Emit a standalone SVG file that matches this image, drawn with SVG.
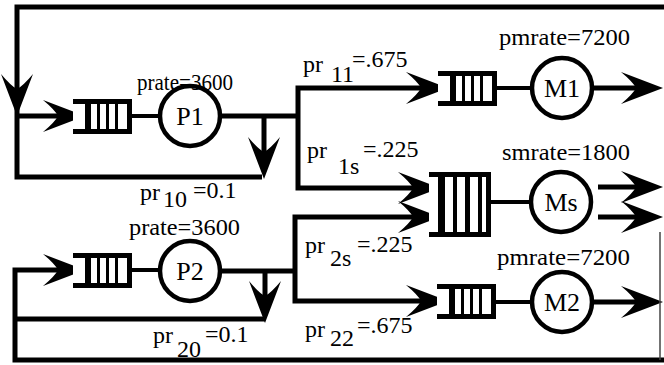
<svg xmlns="http://www.w3.org/2000/svg" xmlns:xlink="http://www.w3.org/1999/xlink" width="664" height="365" viewBox="0 0 664 365">
<style>
.ln{fill:none;stroke:#000;stroke-width:5;stroke-linejoin:miter;stroke-linecap:butt}
.lk{fill:none;stroke:#000;stroke-width:4}
.nd{fill:#fff;stroke:#000;stroke-width:4.5}
.t{font-size:24px;fill:#000}
.nl{font-size:26px;fill:#000;text-anchor:middle}
.bk{fill:#000}
.wh{fill:#fff}
</style>
<defs>
<path id="ah" d="M0,0 L-42,-16 Q-30,-6 -27,0 Q-30,6 -42,16 Z" fill="#000"/>
<g id="q">
<rect class="bk" x="0" y="0" width="59" height="35"/>
<rect class="wh" x="0" y="5" width="12" height="25"/>
<rect class="wh" x="18" y="5" width="6" height="25"/>
<rect class="wh" x="27" y="5" width="6" height="25"/>
<rect class="wh" x="36" y="5" width="6" height="25"/>
<rect class="wh" x="45" y="5" width="9" height="25"/>
</g>
</defs>
<g id="connectors">
<path class="ln" d="M664,7 H17 V177 H262"/>
<path class="ln" d="M17,116 H70"/>
<use xlink:href="#ah" transform="translate(17,116) rotate(90)"/>
<use xlink:href="#ah" transform="translate(85,116)"/>
<path class="lk" d="M132,116 H160"/>
<path class="ln" d="M220,116 H298"/>
<path class="ln" d="M264,116 V160"/>
<use xlink:href="#ah" transform="translate(264,179) rotate(90)"/>
<path class="ln" d="M430,88 H298 V188 H425"/>
<use xlink:href="#ah" transform="translate(448,88)"/>
<use xlink:href="#ah" transform="translate(440,188)"/>
<path class="ln" d="M664,360 H15 V270 H70"/>
<use xlink:href="#ah" transform="translate(85,270)"/>
<path class="ln" d="M15,319 H265"/>
<path class="lk" d="M132,270 H160"/>
<path class="ln" d="M220,271 H295"/>
<path class="ln" d="M265,271 V305"/>
<use xlink:href="#ah" transform="translate(265,323) rotate(90)"/>
<path class="ln" d="M425,217 H295 V301 H430"/>
<use xlink:href="#ah" transform="translate(440,217)"/>
<use xlink:href="#ah" transform="translate(448,301)"/>
<path class="lk" d="M497,88 H532"/>
<path class="ln" d="M592,88 H645"/>
<use xlink:href="#ah" transform="translate(663,88)"/>
<path class="lk" d="M491,202 H531"/>
<path class="ln" d="M598,187 H645"/>
<use xlink:href="#ah" transform="translate(663,187)"/>
<path class="ln" d="M598,217 H645"/>
<use xlink:href="#ah" transform="translate(663,217)"/>
<path class="lk" d="M495,302 H532"/>
<path class="ln" d="M592,302 H645"/>
<use xlink:href="#ah" transform="translate(663,302)"/>
<path d="M660,232 V360" stroke="#444" stroke-width="1.5" fill="none"/>
</g>
<g font-family="Liberation Serif, Times New Roman, Times, Tinos, Noto Serif, DejaVu Serif, FreeSerif, serif">
<g id="qP1"><use xlink:href="#q" x="73" y="99"/></g>
<g id="P1"><circle class="nd" cx="190" cy="116" r="30"/><text class="nl" x="190" y="125">P1</text></g>
<g id="qP2"><use xlink:href="#q" x="73" y="253"/></g>
<g id="P2"><circle class="nd" cx="190" cy="271" r="30"/><text class="nl" x="190" y="280">P2</text></g>
<g id="qM1"><use xlink:href="#q" x="438" y="71"/></g>
<g id="M1"><circle class="nd" cx="562" cy="88" r="30"/><text class="nl" x="562" y="97">M1</text></g>
<g id="qMs">
<rect class="bk" x="429" y="172" width="62" height="65"/>
<rect class="wh" x="429" y="177" width="9" height="55"/>
<rect class="wh" x="445" y="177" width="8" height="55"/>
<rect class="wh" x="457" y="177" width="8" height="55"/>
<rect class="wh" x="470" y="177" width="8" height="55"/>
<rect class="wh" x="482" y="177" width="4" height="55"/>
</g>
<g id="Ms"><circle class="nd" cx="561" cy="202" r="30"/><text class="nl" x="561" y="211">Ms</text></g>
<g id="qM2"><use xlink:href="#q" x="437" y="284"/></g>
<g id="M2"><circle class="nd" cx="562" cy="302" r="30"/><text class="nl" x="562" y="311">M2</text></g>
<g id="labels">
<text class="t" x="137" y="90" textLength="96" lengthAdjust="spacingAndGlyphs">prate=3600</text>
<text class="t" x="129" y="235" textLength="111" lengthAdjust="spacingAndGlyphs">prate=3600</text>
<text class="t" x="140" y="200">pr<tspan x="163" y="207">10</tspan><tspan x="193" y="198">=0.1</tspan></text>
<text class="t" x="153" y="343">pr<tspan x="177" y="357">20</tspan><tspan x="205" y="342">=0.1</tspan></text>
<text class="t" x="303" y="72">pr<tspan x="331" y="82">11</tspan><tspan x="352" y="67">=.675</tspan></text>
<text class="t" x="307" y="158">pr<tspan x="338" y="174">1s</tspan><tspan x="363" y="157">=.225</tspan></text>
<text class="t" x="305" y="253">pr<tspan x="330" y="266">2s</tspan><tspan x="357" y="252">=.225</tspan></text>
<text class="t" x="305" y="337">pr<tspan x="330" y="346">22</tspan><tspan x="357" y="333">=.675</tspan></text>
<text class="t" x="499" y="45" textLength="131" lengthAdjust="spacingAndGlyphs">pmrate=7200</text>
<text class="t" x="502" y="160" textLength="128" lengthAdjust="spacingAndGlyphs">smrate=1800</text>
<text class="t" x="497" y="265" textLength="133" lengthAdjust="spacingAndGlyphs">pmrate=7200</text>
</g>
</g>
</svg>
